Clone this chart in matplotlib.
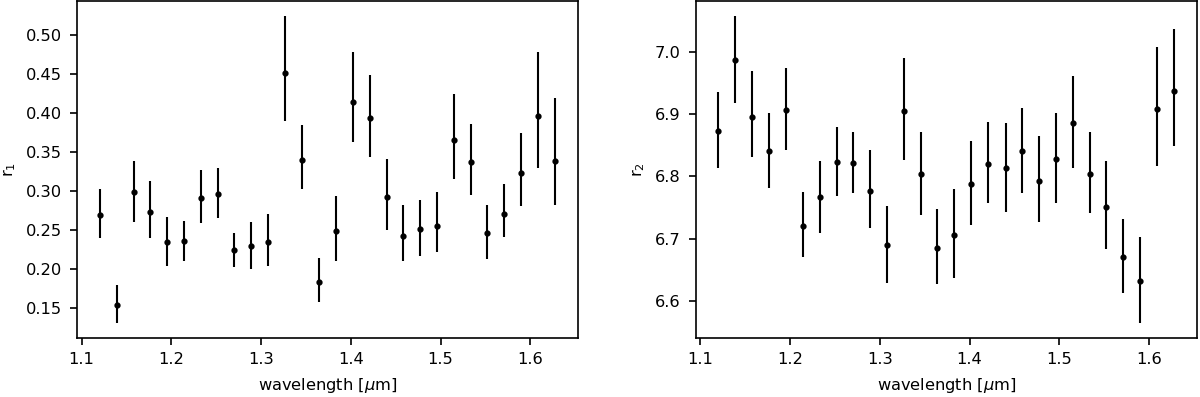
import matplotlib
matplotlib.use("Agg")
import matplotlib.pyplot as plt

wavelength = [1.120, 1.139, 1.158, 1.176, 1.195, 1.214, 1.233, 1.252, 1.270, 1.289,
              1.308, 1.327, 1.346, 1.364, 1.383, 1.402, 1.421, 1.440, 1.458, 1.477,
              1.496, 1.515, 1.534, 1.552, 1.571, 1.590, 1.609, 1.628]

r1 = [0.269, 0.154, 0.298, 0.273, 0.235, 0.236, 0.291, 0.296, 0.224, 0.229,
      0.235, 0.451, 0.340, 0.183, 0.249, 0.4145, 0.394, 0.292, 0.2426, 0.251,
      0.2554, 0.365, 0.337, 0.2456, 0.271, 0.3235, 0.396, 0.339]
r1_err_lo = [0.030, 0.023, 0.038, 0.033, 0.031, 0.026, 0.032, 0.031, 0.022, 0.029,
             0.031, 0.061, 0.037, 0.025, 0.039, 0.0515, 0.050, 0.042, 0.0326, 0.034,
             0.0344, 0.050, 0.042, 0.0336, 0.030, 0.0425, 0.066, 0.057]
r1_err_hi = [0.033, 0.025, 0.040, 0.040, 0.032, 0.026, 0.036, 0.033, 0.022, 0.031,
             0.035, 0.073, 0.045, 0.031, 0.045, 0.0645, 0.055, 0.049, 0.0394, 0.038,
             0.0436, 0.060, 0.049, 0.0364, 0.038, 0.0505, 0.083, 0.080]

r2 = [6.8727, 6.987, 6.896, 6.840, 6.906, 6.720, 6.767, 6.823, 6.821, 6.777,
      6.689, 6.905, 6.804, 6.6856, 6.706, 6.788, 6.820, 6.814, 6.840, 6.7925,
      6.828, 6.886, 6.804, 6.751, 6.670, 6.632, 6.908, 6.938]
r2_err_lo = [0.0597, 0.069, 0.065, 0.058, 0.064, 0.050, 0.058, 0.055, 0.048, 0.060,
             0.060, 0.079, 0.066, 0.0586, 0.070, 0.066, 0.063, 0.072, 0.066, 0.0655,
             0.071, 0.073, 0.063, 0.068, 0.058, 0.067, 0.091, 0.089]
r2_err_hi = [0.0623, 0.070, 0.074, 0.062, 0.068, 0.055, 0.058, 0.056, 0.050, 0.065,
             0.063, 0.085, 0.068, 0.0624, 0.073, 0.069, 0.067, 0.072, 0.070, 0.0725,
             0.074, 0.075, 0.067, 0.074, 0.062, 0.070, 0.1006, 0.099]

plt.rcParams['font.family'] = ['DejaVu Sans']
plt.rcParams['font.size'] = 7.8

fig, axes = plt.subplots(1, 2, figsize=(8, 397 / 150), dpi=150)
fig.subplots_adjust(left=0.064, right=0.9975, top=0.997, bottom=0.149, wspace=0.234)

panels = [(axes[0], r1, r1_err_lo, r1_err_hi, r"r$_1$"),
          (axes[1], r2, r2_err_lo, r2_err_hi, r"r$_2$")]
for ax, y, elo, ehi, lab in panels:
    ax.errorbar(wavelength, y, yerr=[elo, ehi], fmt='o', color='black', ms=2.0,
                elinewidth=1.0, capsize=0)
    ax.set_xlabel(r"wavelength [$\mu$m]")
    ax.set_ylabel(lab)

axes[0].set_yticks([0.15, 0.20, 0.25, 0.30, 0.35, 0.40, 0.45, 0.50])
axes[1].set_yticks([6.6, 6.7, 6.8, 6.9, 7.0])

fig.savefig("out.png", dpi=150)
